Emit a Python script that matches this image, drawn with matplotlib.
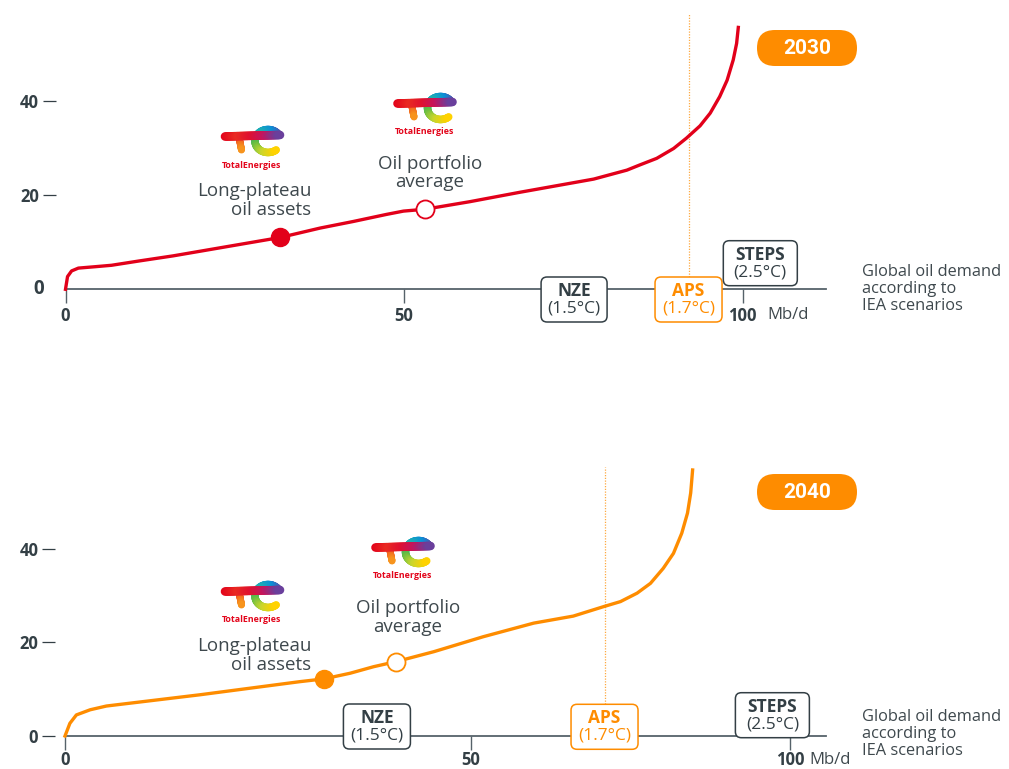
import numpy as np
import matplotlib
matplotlib.use("Agg")
import matplotlib.pyplot as plt
from matplotlib.patches import FancyBboxPatch
from matplotlib.collections import LineCollection
from matplotlib.colors import LinearSegmentedColormap
from matplotlib.transforms import Affine2D, ScaledTranslation

plt.rcParams['font.family'] = ['Open Sans', 'DejaVu Sans']

# ---- data (x: Mb/d of global oil demand, y: cost) ----
x_2030 = [0, 0.3, 0.9, 1.9, 4.4, 6.8, 10.8, 15.9, 31.7, 37.6, 42.5, 47.4, 49.9, 53.1,
          59.7, 67.1, 74.5, 78.0, 82.9, 84.8, 87.3, 89.8, 91.7, 93.7, 95.2, 96.6,
          97.7, 98.6, 99.1, 99.35]
y_2030 = [0, 2.7, 3.9, 4.5, 4.8, 5.1, 6.0, 7.1, 11.0, 13.0, 14.4, 15.9, 16.6, 17.0,
          18.6, 20.6, 22.5, 23.4, 25.3, 26.4, 27.8, 29.9, 32.1, 34.7, 37.4, 40.9,
          44.4, 48.7, 52.2, 55.6]
plateau_2030 = (31.7, 11.0)
average_2030 = (53.1, 17.0)
scen_x_2030 = {'NZE': 75.1, 'APS': 92.0, 'STEPS': 102.6}

x_2040 = [0, 0.6, 1.4, 3.1, 5.1, 16.6, 28.9, 31.9, 35.1, 38.0, 40.8, 45.4, 51.9,
          59.8, 66.0, 70.7, 73.4, 76.0, 78.1, 80.1, 81.7, 83.0, 83.9, 84.4, 84.7]
y_2040 = [0, 2.7, 4.5, 5.6, 6.4, 8.8, 11.6, 12.2, 13.4, 14.8, 15.9, 18.0, 21.2,
          24.1, 25.6, 27.6, 28.7, 30.5, 32.6, 35.8, 39.0, 43.3, 47.6, 51.9, 56.8]
plateau_2040 = (31.9, 12.2)
average_2040 = (40.8, 15.9)
scen_x_2040 = {'NZE': 38.4, 'APS': 70.9, 'STEPS': 97.2}

scen_temp = {'NZE': '(1.5°C)', 'APS': '(1.7°C)', 'STEPS': '(2.5°C)'}
xticks = [0, 50, 100]
xtick_labels = ['0', '50', '100']

RED = '#E2001A'
ORANGE = '#FE8C00'
AXIS = '#56626A'
DARK = '#333F45'
TEXT = '#3E484D'

W, H = 1009, 769
fig = plt.figure(figsize=(W / 100, H / 100), dpi=100)
PX = Affine2D().scale(1 / W, -1 / H).translate(0, 1) + fig.transFigure


def make_ax(left, right, top, bottom, xpad=2.5):
    ax = fig.add_axes([left / W, 1 - bottom / H, (right - left) / W, (bottom - top) / H])
    ax.patch.set_visible(False)
    for s in ['top', 'right']:
        ax.spines[s].set_visible(False)
    ax.spines['left'].set_visible(False)
    ax.spines['left'].set_position(('outward', 7.2))
    ax.spines['bottom'].set_color(AXIS)
    ax.spines['bottom'].set_linewidth(1.3)
    ax.tick_params(axis='x', direction='out', length=10, width=1, color=AXIS,
                   pad=xpad, labelsize=12, labelcolor=DARK)
    ax.tick_params(axis='y', direction='out', length=9.5, width=0.9, color=DARK,
                   pad=2.5, labelsize=12, labelcolor=DARK)
    ax.set_xticks(xticks)
    ax.set_xticklabels(xtick_labels, fontweight='bold')
    return ax


def at_data(ax, x, y=0):
    # pixel units (y down) around a data point
    return Affine2D().scale(1, -1) + ScaledTranslation(x, y, ax.transData)


def stroke(t, xs, ys, colors, lw):
    pts = np.column_stack([xs, ys])
    segs = np.stack([pts[:-1], pts[1:]], axis=1)
    cmap = LinearSegmentedColormap.from_list('logo', colors)
    lc = LineCollection(segs, colors=cmap(np.linspace(0, 1, len(segs))),
                        linewidths=lw, capstyle='round', transform=t, zorder=4)
    fig.add_artist(lc)


def draw_logo(cx, cy):
    t = Affine2D().translate(cx, cy) + PX
    s = np.linspace(0, 1, 40)
    # stem of the T
    stroke(t, -13 + 2.5 * s, -3 + 13 * s, ['#EC3A24', '#F7941D'], 5.0)
    # loop of the e
    th = np.linspace(-0.55, -5.4, 90)
    stroke(t, 16 + 13 * np.cos(th), 1 + 11.5 * np.sin(th),
           ['#6A3F9C', '#0A8FD8', '#1FB2B0', '#5DBB46', '#C8D62E', '#FFD200'], 5.4)
    # bar of the T, running into the e
    stroke(t, -27 + 55 * s, -3.5 - 1.5 * s,
           ['#E3051B', '#EA2A22', '#E0112F', '#C4145E', '#6A3F9C'], 6.2)
    fig.text(cx, cy + 25, 'TotalEnergies', transform=PX, ha='center', va='center',
             fontsize=6.4, fontweight='bold', color='#E3051B')


def scen_box(ax, x, top, name, color, w):
    h = 45
    tr = at_data(ax, x)
    box = FancyBboxPatch((-w / 2, top), w, h, boxstyle='round,pad=0,rounding_size=6',
                         fc='white', ec=color, lw=1.1, transform=tr, zorder=5)
    fig.add_artist(box)
    fig.text(0, top + h / 2 - 8.5, name, transform=tr, ha='center', va='center',
             fontsize=12.5, fontweight='bold', color=color, zorder=6)
    fig.text(0, top + h / 2 + 9, scen_temp[name], transform=tr, ha='center',
             va='center', fontsize=12.5, color=color, zorder=6)


def badge(cx, cy, label):
    fig.add_artist(FancyBboxPatch((cx - 50, cy - 18), 100, 36,
                                  boxstyle='round,pad=0,rounding_size=18',
                                  fc=ORANGE, ec='none', transform=PX, zorder=4))
    fig.text(cx, cy, label, transform=PX, ha='center', va='center', fontsize=15,
             fontweight='bold', color='white', family=['Roboto', 'DejaVu Sans'], zorder=5)


def demand_note(y):
    fig.text(862, y, 'Global oil demand\naccording to\nIEA scenarios', transform=PX,
             ha='left', va='center', fontsize=11.8, color=TEXT, linespacing=1.12)


# ---------------- 2030 panel ----------------
ax1 = make_ax(65.5, 826, 13, 289.3)
ax1.plot(x_2030, y_2030, color=RED, lw=2.4, clip_on=False, zorder=3,
         solid_joinstyle='round')
ax1.plot(*plateau_2030, 'o', ms=13, color=RED, zorder=4)
ax1.plot(*average_2030, 'o', ms=13, mfc='white', mec=RED, mew=1.3, zorder=4)
ax1.set_xlim(0, 112.3)
ax1.set_ylim(0, 58.66)
ax1.set_yticks([20, 40])
ax1.set_yticklabels(['20', '40'], fontweight='bold')
ax1.axvline(scen_x_2030['APS'], ymin=0.045, ymax=1, color=ORANGE, lw=0.9,
            ls=(0, (1, 1.2)), alpha=0.75)
fig.text(44, 289, '0', transform=PX, ha='right', va='center', fontsize=13.5,
         fontweight='bold', color=DARK)
scen_box(ax1, scen_x_2030['NZE'], -12.3, 'NZE', DARK, 66)
scen_box(ax1, scen_x_2030['APS'], -12.3, 'APS', ORANGE, 67)
scen_box(ax1, scen_x_2030['STEPS'], -48.6, 'STEPS', DARK, 74)
fig.text(767, 315, 'Mb/d', transform=PX, ha='left', va='center', fontsize=12, color=TEXT)
draw_logo(252, 140)
draw_logo(424.5, 107)
fig.text(311.5, 200.5, 'Long-plateau\noil assets', transform=PX, ha='right', va='center',
         fontsize=13.5, color=TEXT, linespacing=1.05)
fig.text(430, 173, 'Oil portfolio\naverage', transform=PX, ha='center', va='center',
         fontsize=13.5, color=TEXT, linespacing=1.05)
badge(807, 48, '2030')
demand_note(289)


# ---------------- 2040 panel ----------------
def fwd(x):
    x = np.asarray(x, dtype=float)
    return np.where(x <= 50, x * 8.12, 406 + (x - 50) * 6.38)


def inv(p):
    p = np.asarray(p, dtype=float)
    return np.where(p <= 406, p / 8.12, 50 + (p - 406) / 6.38)


ax2 = make_ax(65, 826, 466.7, 736, xpad=0.5)
ax2.set_xscale('function', functions=(fwd, inv))
ax2.set_xticks(xticks)
ax2.set_xticklabels(xtick_labels, fontweight='bold')
ax2.plot(x_2040, y_2040, color=ORANGE, lw=2.4, clip_on=False, zorder=3,
         solid_joinstyle='round')
ax2.plot(*plateau_2040, 'o', ms=13, color=ORANGE, zorder=4)
ax2.plot(*average_2040, 'o', ms=13, mfc='white', mec=ORANGE, mew=1.3, zorder=4)
ax2.set_xlim(0, 105.6)
ax2.set_ylim(0, 57.5)
ax2.set_yticks([0, 20, 40])
ax2.set_yticklabels(['0', '20', '40'], fontweight='bold')
ax2.axvline(scen_x_2040['APS'], ymin=0.119, ymax=1, color=ORANGE, lw=0.9,
            ls=(0, (1, 1.2)), alpha=0.75)
scen_box(ax2, scen_x_2040['NZE'], -32, 'NZE', DARK, 67)
scen_box(ax2, scen_x_2040['APS'], -31.7, 'APS', ORANGE, 67)
scen_box(ax2, scen_x_2040['STEPS'], -43.3, 'STEPS', DARK, 74)
fig.text(809, 760, 'Mb/d', transform=PX, ha='left', va='center', fontsize=12, color=TEXT)
draw_logo(252, 595)
draw_logo(402.5, 551)
fig.text(311.5, 655.5, 'Long-plateau\noil assets', transform=PX, ha='right', va='center',
         fontsize=13.5, color=TEXT, linespacing=1.05)
fig.text(408, 617.3, 'Oil portfolio\naverage', transform=PX, ha='center', va='center',
         fontsize=13.5, color=TEXT, linespacing=1.05)
badge(807, 492, '2040')
demand_note(734)

fig.savefig('out.png', dpi=100)
